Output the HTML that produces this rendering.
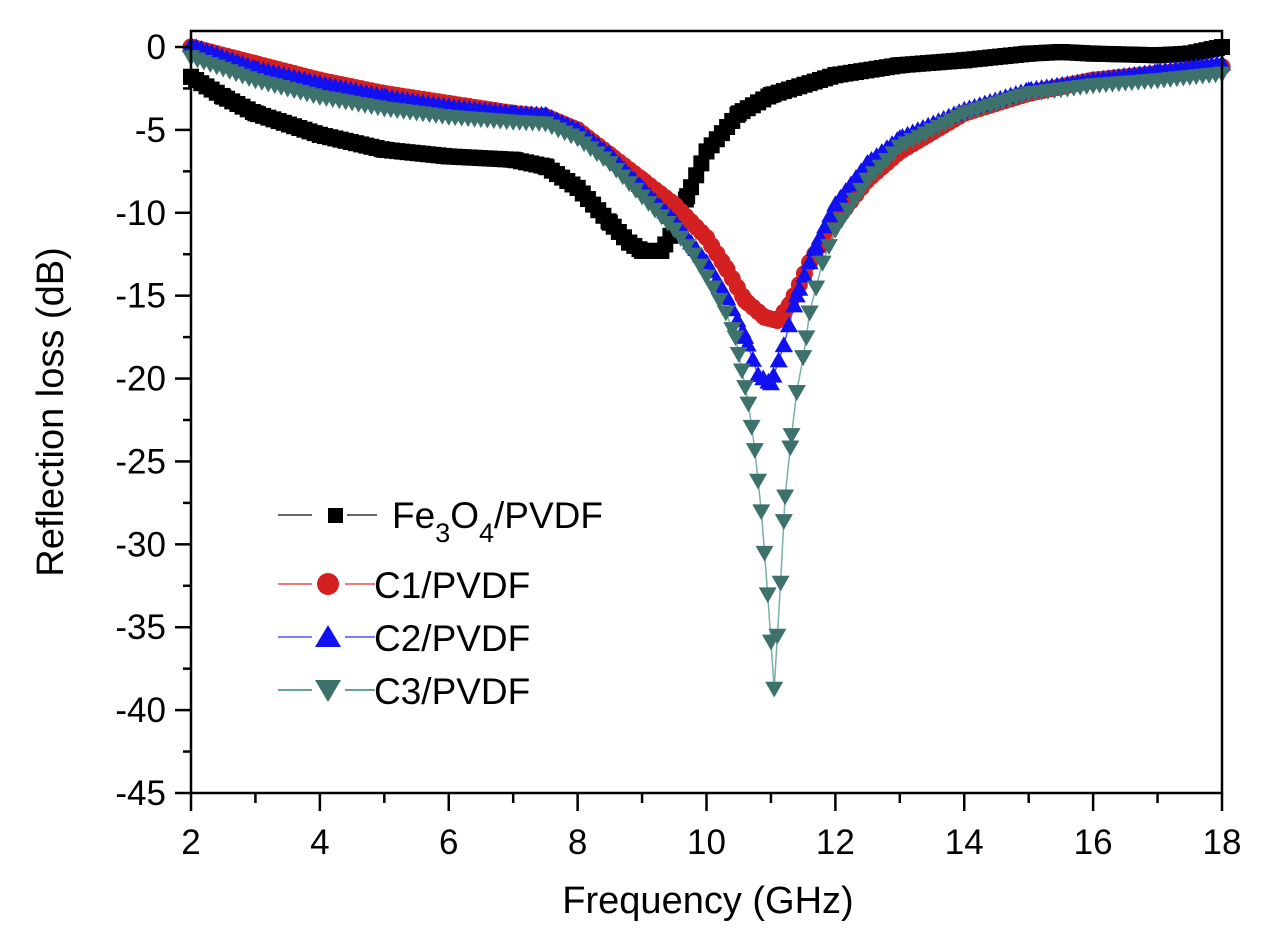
<!DOCTYPE html>
<html><head><meta charset="utf-8"><style>
html,body{margin:0;padding:0;background:#fff;}
svg{display:block;font-family:"Liberation Sans",Arial,sans-serif;}
</style></head><body>
<svg id="chart" width="1273" height="938" viewBox="0 0 1273 938" xmlns="http://www.w3.org/2000/svg">
<g id="series-layer"></g>
<g id="axes-layer"></g>
<text x="0" y="0" transform="translate(63,412) rotate(-90)" font-size="38" text-anchor="middle" fill="#000">Reflection loss (dB)</text>
<text x="708" y="913" font-size="38" text-anchor="middle" fill="#000">Frequency (GHz)</text>
<g>
  <g>
    <line x1="278" y1="515" x2="312" y2="515" stroke="#333" stroke-width="1.5"/>
    <rect x="328" y="508" width="15" height="15" fill="#000"/>
    <line x1="347" y1="515" x2="377" y2="515" stroke="#333" stroke-width="1.5"/>
    <text x="392" y="528" font-size="37" fill="#000">Fe<tspan font-size="27" dy="14">3</tspan><tspan dy="-14">O</tspan><tspan font-size="27" dy="14">4</tspan><tspan dy="-14">/PVDF</tspan></text>
  </g>
  <g>
    <line x1="278" y1="584" x2="312" y2="584" stroke="#e05050" stroke-width="1.5"/>
    <circle cx="328" cy="584" r="11" fill="#d42020"/>
    <line x1="345" y1="584" x2="375" y2="584" stroke="#e05050" stroke-width="1.5"/>
    <text x="374" y="598" font-size="37" fill="#000">C1/PVDF</text>
  </g>
  <g>
    <line x1="278" y1="637" x2="312" y2="637" stroke="#5050ff" stroke-width="1.5"/>
    <polygon points="328,625 341,647 315,647" fill="#1010f0"/>
    <line x1="345" y1="637" x2="375" y2="637" stroke="#5050ff" stroke-width="1.5"/>
    <text x="374" y="651" font-size="37" fill="#000">C2/PVDF</text>
  </g>
  <g>
    <line x1="278" y1="690" x2="312" y2="690" stroke="#3a8078" stroke-width="1.5"/>
    <polygon points="315,680 341,680 328,702" fill="#3d716c"/>
    <line x1="345" y1="690" x2="375" y2="690" stroke="#3a8078" stroke-width="1.5"/>
    <text x="374" y="704" font-size="37" fill="#000">C3/PVDF</text>
  </g>
</g>
</svg>
<script>
const xTicks = [2,4,6,8,10,12,14,16,18];
const yTicks = [0,-5,-10,-15,-20,-25,-30,-35,-40,-45];

const feFreq = [2,2.5,3,4,5,6,7,7.5,8,8.5,8.8,9,9.3,9.5,9.7,10,10.5,11,12,13,14,15,15.5,16,17,17.5,18];
const feRL   = [-1.8,-3,-4,-5.3,-6.2,-6.6,-6.8,-7.2,-8.5,-10.6,-11.8,-12.3,-12.3,-11,-9,-6.3,-4,-2.9,-1.7,-1.1,-0.8,-0.4,-0.3,-0.4,-0.5,-0.4,0];

const c1Freq = [2,3,4,5,6,7,7.5,8,8.5,9,9.5,10,10.3,10.6,10.9,11.1,11.3,11.6,12,12.5,13,14,15,16,17,18];
const c1RL   = [0,-1,-2,-2.8,-3.4,-4,-4.2,-5,-6.5,-8,-9.5,-11.5,-13.3,-15.3,-16.3,-16.5,-15.5,-13,-10.5,-8,-6.3,-4,-2.8,-2,-1.6,-1.2];

const c2Freq = [2,3,4,5,6,7,7.5,8,8.5,9,9.5,10,10.3,10.6,10.8,11,11.2,11.4,11.7,12,12.5,13,14,15,16,17,18];
const c2RL   = [0.1,-1.3,-2.2,-3,-3.6,-4,-4.1,-5,-6.5,-8.5,-10.5,-13,-15,-17.5,-19.8,-20.3,-18,-15,-12,-9.5,-7,-5.5,-3.8,-2.6,-2,-1.5,-1];

const c3Freq = [2,3,4,5,6,7,7.5,8,8.5,9,9.5,9.8,10.1,10.3,10.45,10.55,10.65,10.75,10.85,10.95,11.05,11.15,11.22,11.32,11.4,11.5,11.55,11.6,11.7,11.8,12,12.5,13,14,15,16,17,18];
const c3RL   = [-0.6,-2,-3,-3.7,-4.2,-4.5,-4.6,-5.5,-7,-9,-11,-12.5,-14.5,-16,-17.5,-19.5,-21.5,-24.3,-28,-33,-38.7,-32.3,-27.1,-23.4,-20.8,-18.7,-17.5,-16,-14.5,-13,-11,-8,-6,-4,-2.8,-2.3,-2,-1.6];

const PL=191, PR=1222, PT=31, PB=793;
const X0=2, X1=18, Y0=0, YMIN=-45;
const yTop = 47;
function xs(f){ return PL + (f-X0)/(X1-X0)*(PR-PL); }
function ys(v){ return yTop + (v-Y0)/(YMIN-Y0)*(PB-yTop); }

const NS="http://www.w3.org/2000/svg";
const sl=document.getElementById('series-layer');
const al=document.getElementById('axes-layer');
function mk(tag,attrs,parent){const e=document.createElementNS(NS,tag);for(const k in attrs)e.setAttribute(k,attrs[k]);parent.appendChild(e);return e;}

function valueAt(fr,rl,f){
  for(let i=0;i<fr.length-1;i++){ if(f>=fr[i]&&f<=fr[i+1]){const t=(f-fr[i])/(fr[i+1]-fr[i]);return rl[i]+t*(rl[i+1]-rl[i]);} }
  return rl[rl.length-1];
}

function drawMarker(g,name,shape,color,cx,cy,size){
  const h=size/2; let m;
  if(shape==='square') m=mk('rect',{x:cx-h,y:cy-h,width:size,height:size,fill:color},g);
  else if(shape==='circle') m=mk('circle',{cx:cx,cy:cy,r:h,fill:color},g);
  else if(shape==='up') m=mk('polygon',{points:`${cx},${cy-h} ${cx+h},${cy+h*0.75} ${cx-h},${cy+h*0.75}`,fill:color},g);
  else m=mk('polygon',{points:`${cx-h},${cy-h*0.75} ${cx+h},${cy-h*0.75} ${cx},${cy+h}`,fill:color},g);
  
  
}

function drawSeries(name,fr,rl,color,lineColor,shape,size,step){
  const g=mk('g',{},sl);
  
  
  const pts=fr.map((f,i)=>xs(f).toFixed(1)+','+ys(rl[i]).toFixed(1)).join(' ');
  const pl=mk('polyline',{points:pts,fill:'none',stroke:lineColor,'stroke-width':1.5},g);
  
  
  const n=Math.round((X1-X0)/step);
  for(let k=0;k<=n;k++){
    const f=X0+k*step;
    if(f<fr[0]-1e-9||f>fr[fr.length-1]+1e-9) continue;
    drawMarker(g,name,shape,color,xs(f),ys(valueAt(fr,rl,f)),size);
  }
  fr.forEach((f,i)=>drawMarker(g,name,shape,color,xs(f),ys(rl[i]),size));
}
drawSeries('series-fe3o4',feFreq,feRL,'#000','#333','square',16,0.08);
drawSeries('series-c1',c1Freq,c1RL,'#d42020','#e05050','circle',17,0.08);
drawSeries('series-c2',c2Freq,c2RL,'#1010f0','#5050ff','up',18,0.08);
drawSeries('series-c3',c3Freq,c3RL,'#3d716c','#7ab0aa','down',18,0.1);

const frm=mk('rect',{x:PL,y:PT,width:PR-PL,height:PB-PT,fill:'none',stroke:'#000','stroke-width':2.5},al);


xTicks.forEach((t,i)=>{
  const x=xs(t);
  const l=mk('line',{x1:x,y1:PB,x2:x,y2:PB+18,stroke:'#000','stroke-width':2.5},al);
  
  
  if(i<xTicks.length-1){
    const xm=xs(t+1);
    const m=mk('line',{x1:xm,y1:PB,x2:xm,y2:PB+10,stroke:'#000','stroke-width':2.5},al);
    
    
  }
  const tx=mk('text',{x:x,y:854,'font-size':35,'text-anchor':'middle',fill:'#000'},al);
  tx.textContent=t;
  
  
});
yTicks.forEach((t,i)=>{
  const y=ys(t);
  const l=mk('line',{x1:PL-16,y1:y,x2:PL,y2:y,stroke:'#000','stroke-width':2.5},al);
  
  
  if(i<yTicks.length-1){
    const ym=ys(t-2.5);
    const m=mk('line',{x1:PL-8,y1:ym,x2:PL,y2:ym,stroke:'#000','stroke-width':2.5},al);
    
    
  }
  const tx=mk('text',{x:166,y:y+12,'font-size':35,'text-anchor':'end',fill:'#000'},al);
  tx.textContent=t;
  
  
});
</script>
</body></html>
